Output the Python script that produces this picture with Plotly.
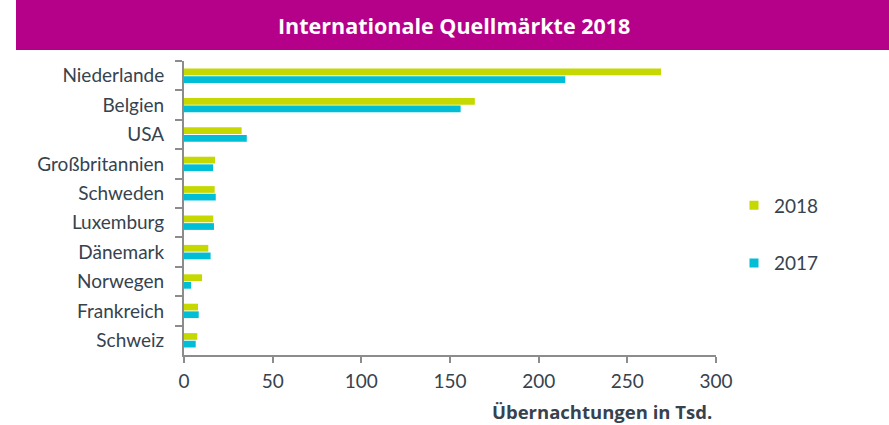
import plotly.graph_objects as go

countries = ["Niederlande", "Belgien", "USA", "Großbritannien", "Schweden",
             "Luxemburg", "Dänemark", "Norwegen", "Frankreich", "Schweiz"]
values_2018 = [269, 164, 32.5, 17.5, 17.3, 16.5, 13.7, 10.2, 7.9, 7.5]
values_2017 = [215, 156, 35.4, 16.4, 17.9, 16.9, 15.0, 4.0, 8.3, 6.6]
series_names = ["2018", "2017"]
x_ticks = [0, 50, 100, 150, 200, 250, 300]

C2018 = "#C5D800"
C2017 = "#00BED6"
TXT = "#36434E"
AX = "#8C8C8C"
FONT = "Lato, 'Open Sans', sans-serif"

fig = go.Figure()
fig.add_trace(go.Bar(y=countries, x=values_2018, name=series_names[0], orientation="h",
                     marker=dict(color=C2018, line=dict(width=0)), showlegend=False))
fig.add_trace(go.Bar(y=countries, x=values_2017, name=series_names[1], orientation="h",
                     marker=dict(color=C2017, line=dict(width=0)), showlegend=False))
# legend entries with small square symbols
for nm, col, grp in [(series_names[0], C2018, "a"), (series_names[1], C2017, "b")]:
    fig.add_trace(go.Scatter(x=[None], y=[None], mode="markers", name=nm,
                             marker=dict(symbol="square", size=9, color=col),
                             legendgroup=grp, showlegend=True))

W, H = 889, 425
L, R, T, B = 184, 173, 61, 70
PW, PH = W - L - R, H - T - B

fig.update_layout(
    width=W, height=H,
    margin=dict(l=L, r=R, t=T, b=B),
    paper_bgcolor="white", plot_bgcolor="white",
    barmode="group", bargap=0.48, bargroupgap=0.12,
    font=dict(family=FONT, size=19, color=TXT),
    showlegend=True,
    legend=dict(x=(734 - L) / PW, xanchor="left", y=0.41, yanchor="middle",
                font=dict(size=19, color=TXT), tracegroupgap=30,
                itemwidth=30, bgcolor="rgba(0,0,0,0)"),
    xaxis=dict(range=[0, 300], tickvals=x_ticks, showgrid=False, zeroline=False,
               showline=True, linecolor=AX, linewidth=2, ticks="outside",
               ticklen=6, tickcolor=AX, tickwidth=2, tickfont=dict(size=19, color=TXT),
               ticklabelstandoff=2, fixedrange=True),
    yaxis=dict(categoryorder="array", categoryarray=countries, autorange="reversed",
               showgrid=False, zeroline=False, showline=True, linecolor=AX, linewidth=2,
               ticks="outside", tickson="boundaries", ticklen=7, tickcolor=AX, tickwidth=2,
               tickfont=dict(size=19, color=TXT), ticklabelstandoff=14),
    shapes=[dict(type="rect", xref="paper", yref="paper",
                 x0=(16 - L) / PW, x1=(889 - L) / PW,
                 y0=1 + (T - 50) / PH, y1=1 + T / PH,
                 fillcolor="#B5008A", line=dict(width=0), layer="below")],
    annotations=[
        dict(text="<b>Internationale Quellmärkte 2018</b>", xref="paper", yref="paper",
             x=(454 - L) / PW, y=1 + (T - 26) / PH,
             xanchor="center", yanchor="middle", showarrow=False,
             font=dict(family="'Open Sans', sans-serif", size=21.5, color="white")),
        dict(text="<b>Übernachtungen in Tsd.</b>", xref="paper", yref="paper",
             x=(714 - L) / PW, y=-(411 - (H - B)) / PH,
             xanchor="right", yanchor="middle", showarrow=False,
             font=dict(family="'Open Sans', sans-serif", size=18.5, color=TXT)),
    ],
)

fig.write_html("out.html", config={"displayModeBar": False},
               post_script="document.body.style.margin='0';document.body.style.overflow='hidden';")
